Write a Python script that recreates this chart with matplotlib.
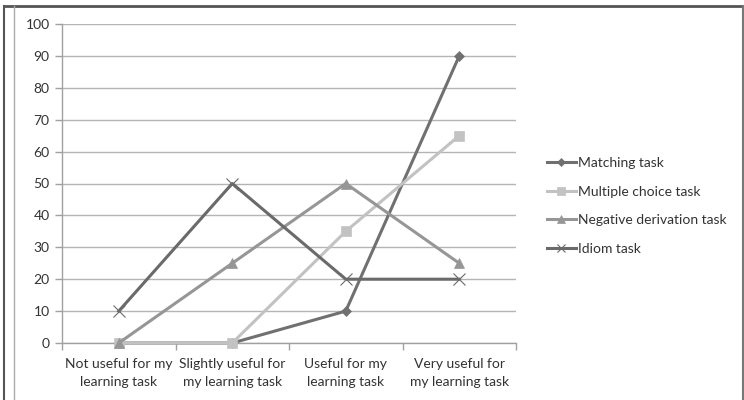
import numpy as np
import matplotlib.pyplot as plt
from matplotlib.lines import Line2D

plt.rcParams['font.family'] = ['Lato', 'DejaVu Sans']

categories = ["Not useful for my\nlearning task", "Slightly useful for\nmy learning task",
              "Useful for my\nlearning task", "Very useful for\nmy learning task"]
matching = [0, 0, 10, 90]
multiple_choice = [0, 0, 35, 65]
negative_derivation = [0, 25, 50, 25]
idiom = [10, 50, 20, 20]

series = [
    ("Matching task", matching, '#707070', 'D', 5),
    ("Multiple choice task", multiple_choice, '#c2c2c2', 's', 7),
    ("Negative derivation task", negative_derivation, '#969696', '^', 7),
    ("Idiom task", idiom, '#6a6a6a', 'x', 8),
]

fig = plt.figure(figsize=(7.44, 4.0), dpi=100)
ax = fig.add_axes([62 / 744, 1 - 343 / 400, 454 / 744, 319 / 400])

x = np.arange(len(categories))
handles = []
for name, vals, col, mk, ms in series:
    ax.plot(x, vals, color=col, lw=2.2, marker=mk, markersize=ms,
            markeredgewidth=0.8 if mk == 'x' else 0.5, markeredgecolor=col,
            clip_on=False, zorder=3)
    handles.append(Line2D([], [], color=col, lw=2.2, marker=mk, markersize=ms * 0.8,
                          markeredgewidth=0.8 if mk == 'x' else 0.5,
                          markeredgecolor=col, label=name))

ax.set_xlim(-0.5, 3.5)
ax.set_ylim(0, 100)
ax.set_yticks(np.arange(0, 101, 10))
ax.yaxis.grid(True, color='#b4b4b4', lw=1.0)
ax.set_axisbelow(True)

# category labels between boundary tick marks
ax.set_xticks(x)
ax.set_xticklabels(categories, fontsize=10, color='#333333', linespacing=1.55)
ax.tick_params(axis='x', length=0, pad=11)
ax.set_xticks(np.arange(-0.5, 4, 1), minor=True)
ax.tick_params(axis='x', which='minor', length=5, color='#a0a0a0', width=1)
ax.tick_params(axis='y', length=5, color='#a0a0a0', width=1, labelsize=10,
               labelcolor='#333333', pad=4)

for s in ['top', 'right']:
    ax.spines[s].set_visible(False)
for s in ['left', 'bottom']:
    ax.spines[s].set_color('#a0a0a0')
    ax.spines[s].set_linewidth(1.0)

leg = ax.legend(handles=handles, loc='center left', bbox_to_anchor=(534 / 744, 194 / 400),
                bbox_transform=fig.transFigure, frameon=False, fontsize=10,
                handlelength=2.1, handletextpad=0.15, labelspacing=1.2)
for t in leg.get_texts():
    t.set_color('#333333')

# chart frame
frame = [
    ((4, 4), (6, 400), '#555555', 1.5),
    ((4, 743), (6, 6), '#555555', 2.0),
    ((743, 743), (6, 400), '#777777', 1.5),
    ((14, 14), (6, 400), '#aaaaaa', 1.0),
]
for xs, ys, col, lw in frame:
    fig.add_artist(Line2D([xs[0] / 744, xs[1] / 744], [1 - ys[0] / 400, 1 - ys[1] / 400],
                          transform=fig.transFigure, color=col, lw=lw))

fig.savefig('out.png', dpi=100)
